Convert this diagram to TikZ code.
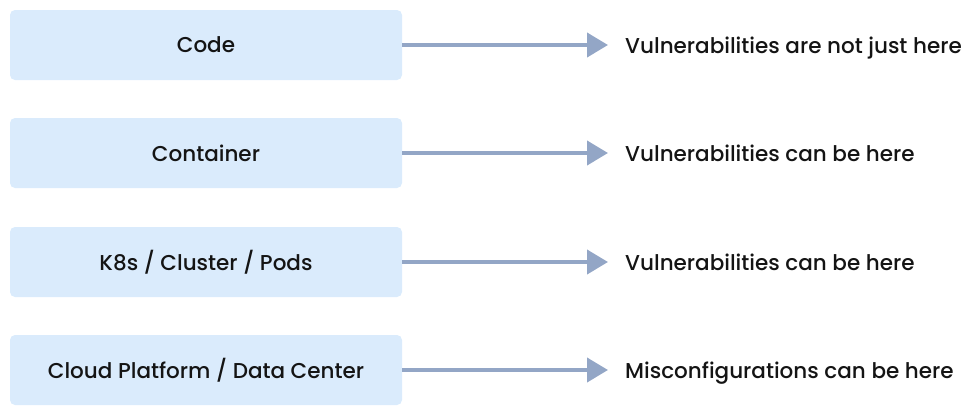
\documentclass[tikz,border=0pt]{standalone}
\usepackage{fontspec}
\setmainfont{Poppins}[UprightFont=* Medium]
\usetikzlibrary{arrows.meta}
\definecolor{boxfill}{HTML}{DAEBFC}
\definecolor{arrowcol}{HTML}{93A6C6}
\definecolor{txt}{HTML}{141414}
\begin{document}
\begin{tikzpicture}[x=1pt,y=-1pt,
  layer/.style={fill=boxfill,draw=none,rounded corners=5pt,minimum width=392pt,minimum height=70pt,inner sep=0pt,text=txt,font=\fontsize{21.5}{24}\selectfont},
  note/.style={anchor=base west,inner sep=0pt,text=txt,font=\fontsize{21.5}{24}\selectfont},
  link/.style={draw=arrowcol,line width=4pt,-{Triangle[length=21pt,width=24pt]}}]
\useasboundingbox (0,0) rectangle (977,416);
\node[layer] (b1) at (206,45) {Code};
\node[layer] (b2) at (206,153) {Container};
\node[layer] (b3) at (206,262) {K8s / Cluster / Pods};
\node[layer] (b4) at (206,370) {Cloud Platform / Data Center};
\node[note] (t1) at (625,53.5) {Vulnerabilities are not just here};
\node[note] (t2) at (625,161.5) {Vulnerabilities can be here};
\node[note] (t3) at (625,270.5) {Vulnerabilities can be here};
\node[note] (t4) at (625,378.5) {Misconfigurations can be here};
\foreach \i/\y in {1/45,2/153,3/262,4/370}{
  \coordinate (e\i) at (608,\y);
  \draw[link] (b\i.east) -- (e\i);
}
\end{tikzpicture}
\end{document}
